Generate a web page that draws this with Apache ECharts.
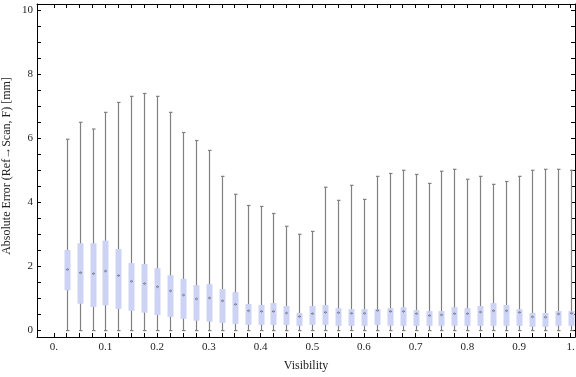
<!DOCTYPE html>
<html>
<head>
<meta charset="utf-8">
<script src="https://cdn.jsdelivr.net/npm/echarts@6/dist/echarts.min.js"></script>
<style>
  html, body { margin: 0; padding: 0; background: #fff; }
  #chart { width: 576px; height: 377px; }
</style>
</head>
<body>
<div id="chart"></div>
<script>
// Box-whisker data
const visibility = [0.025, 0.05, 0.075, 0.1, 0.125, 0.15, 0.175, 0.2, 0.225, 0.25,
  0.275, 0.3, 0.325, 0.35, 0.375, 0.4, 0.425, 0.45, 0.475, 0.5,
  0.525, 0.55, 0.575, 0.6, 0.625, 0.65, 0.675, 0.7, 0.725, 0.75,
  0.775, 0.8, 0.825, 0.85, 0.875, 0.9, 0.925, 0.95, 0.975, 1.0];
const whiskerLow = [0, 0, 0, 0, 0, 0, 0, 0, 0, 0,
  0, 0, 0, 0, 0, 0, 0, 0, 0, 0,
  0, 0, 0, 0, 0, 0, 0, 0, 0, 0,
  0, 0, 0, 0, 0, 0, 0, 0, 0, 0];
const q1 = [1.26, 0.84, 0.74, 0.79, 0.68, 0.62, 0.56, 0.49, 0.43, 0.37,
  0.31, 0.28, 0.24, 0.21, 0.18, 0.18, 0.18, 0.18, 0.15, 0.18,
  0.18, 0.15, 0.15, 0.15, 0.18, 0.15, 0.15, 0.15, 0.15, 0.15,
  0.15, 0.15, 0.15, 0.15, 0.15, 0.15, 0.12, 0.12, 0.15, 0.15];
const median = [1.91, 1.81, 1.78, 1.86, 1.72, 1.54, 1.47, 1.37, 1.24, 1.11,
  0.99, 1.02, 0.93, 0.82, 0.62, 0.60, 0.60, 0.55, 0.44, 0.53,
  0.57, 0.56, 0.54, 0.54, 0.63, 0.60, 0.60, 0.53, 0.47, 0.49,
  0.53, 0.53, 0.58, 0.62, 0.62, 0.57, 0.43, 0.42, 0.52, 0.54];
const q3 = [2.52, 2.73, 2.73, 2.81, 2.55, 2.11, 2.08, 1.95, 1.73, 1.62,
  1.42, 1.45, 1.30, 1.20, 0.83, 0.80, 0.86, 0.77, 0.55, 0.77,
  0.80, 0.70, 0.67, 0.67, 0.67, 0.70, 0.73, 0.64, 0.61, 0.61,
  0.73, 0.70, 0.77, 0.86, 0.80, 0.67, 0.55, 0.55, 0.61, 0.61];
const whiskerHigh = [5.98, 6.51, 6.30, 6.82, 7.13, 7.32, 7.41, 7.32, 6.82, 6.19,
  5.94, 5.63, 4.82, 4.26, 3.91, 3.88, 3.66, 3.26, 3.01, 3.10,
  4.48, 4.07, 4.54, 4.10, 4.82, 4.91, 5.01, 4.88, 4.60, 4.98,
  5.04, 4.73, 4.82, 4.57, 4.66, 4.82, 5.01, 5.04, 5.04, 5.01];

const xTickLabels = [0, 0.1, 0.2, 0.3, 0.4, 0.5, 0.6, 0.7, 0.8, 0.9, 1];
const yTickLabels = [0, 2, 4, 6, 8, 10];

const xTicks = [0].concat(visibility);
const yTicks = Array.from({ length: 21 }, (_, i) => i * 0.5);

const X_MIN = -0.0325, X_MAX = 1.0083;
const Y_MIN = -0.2, Y_MAX = 10.206;

const boxData = visibility.map((v, i) => [v, whiskerLow[i], q1[i], median[i], q3[i], whiskerHigh[i]]);

const chart = echarts.init(document.getElementById('chart'));

const frameLine = { show: true, onZero: false, lineStyle: { color: '#000', width: 1 } };
const tickStyle = (values) => ({
  show: true, inside: true, length: 4,
  customValues: values,
  lineStyle: { color: '#000', width: 1 }
});
const fmtX = v => (v === 0 ? '0.' : v === 1 ? '1.' : v.toFixed(1));

const renderBox = (params, api) => {
  const x = api.value(0);
  const lo = api.coord([x, api.value(1)]);
  const b1 = api.coord([x, api.value(2)]);
  const md = api.coord([x, api.value(3)]);
  const b3 = api.coord([x, api.value(4)]);
  const hi = api.coord([x, api.value(5)]);
  const cx = Math.round(lo[0]) + 0.5;
  const w = 6;
  const grey = { stroke: '#808080', lineWidth: 1.2 };
  return {
    type: 'group',
    children: [
      { type: 'line', shape: { x1: cx, y1: lo[1], x2: cx, y2: hi[1] }, style: grey },
      { type: 'line', shape: { x1: cx - 1.5, y1: hi[1], x2: cx + 2, y2: hi[1] }, style: grey },
      { type: 'line', shape: { x1: cx - 1.5, y1: lo[1], x2: cx + 2, y2: lo[1] }, style: grey },
      { type: 'rect', shape: { x: cx - w / 2, y: b3[1], width: w, height: b1[1] - b3[1] },
        style: { fill: '#ccd3f5' } },
      { type: 'line', shape: { x1: cx - 1.5, y1: md[1], x2: cx + 1.5, y2: md[1] },
        style: { stroke: '#7c7c8e', lineWidth: 1.2 } },
      { type: 'line', shape: { x1: cx, y1: md[1] - 1.5, x2: cx, y2: md[1] + 1.5 },
        style: { stroke: '#9a9ab0', lineWidth: 1 } }
    ]
  };
};

chart.setOption({
  animation: false,
  textStyle: { fontFamily: '"Liberation Serif", "DejaVu Serif", serif' },
  grid: { left: 37, top: 4, width: 538, height: 333, containLabel: false, outerBoundsMode: 'none' },
  xAxis: [
    {
      type: 'value', position: 'bottom', min: X_MIN, max: X_MAX,
      name: 'Visibility', nameLocation: 'middle', nameGap: 23,
      nameTextStyle: { color: '#222', fontSize: 12, fontFamily: '"Liberation Serif", serif' },
      axisLine: frameLine,
      axisTick: tickStyle(xTicks),
      axisLabel: {
        customValues: xTickLabels, formatter: fmtX, margin: 5,
        color: '#222', fontSize: 11, fontFamily: '"Liberation Serif", serif'
      },
      splitLine: { show: false }
    },
    {
      type: 'value', position: 'top', min: X_MIN, max: X_MAX,
      axisLine: frameLine,
      axisTick: tickStyle(xTicks),
      axisLabel: { show: false },
      splitLine: { show: false }
    }
  ],
  yAxis: [
    {
      type: 'value', position: 'left', min: Y_MIN, max: Y_MAX,
      axisLine: frameLine,
      axisTick: tickStyle(yTicks),
      axisLabel: {
        customValues: yTickLabels, margin: 4,
        color: '#222', fontSize: 11, fontFamily: '"Liberation Serif", serif'
      },
      splitLine: { show: false }
    },
    {
      type: 'value', position: 'right', min: Y_MIN, max: Y_MAX,
      axisLine: frameLine,
      axisTick: tickStyle(yTicks),
      axisLabel: { show: false },
      splitLine: { show: false }
    }
  ],
  graphic: [
    {
      type: 'text', x: 7, y: 166, rotation: Math.PI / 2,
      style: {
        text: 'Absolute Error (Ref\u2192Scan, F) [mm]',
        fill: '#222', fontSize: 12, fontFamily: '"Liberation Serif", "DejaVu Serif", serif',
        align: 'center', verticalAlign: 'middle'
      }
    }
  ],
  series: [
    {
      type: 'custom',
      xAxisIndex: 0, yAxisIndex: 0,
      renderItem: renderBox,
      encode: { x: 0, y: [1, 2, 3, 4, 5] },
      data: boxData,
      clip: true,
      silent: true
    }
  ]
});
</script>
</body>
</html>
